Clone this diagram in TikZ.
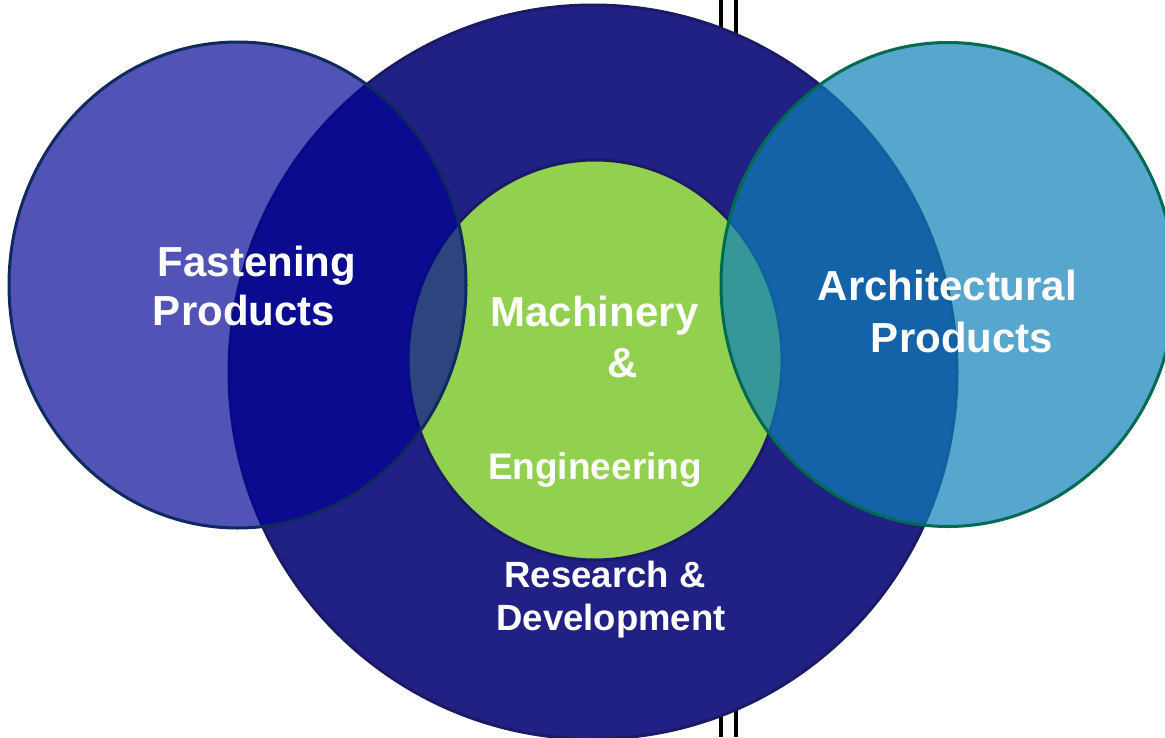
\documentclass[tikz,border=0pt]{standalone}
\usepackage{fontspec}
\setmainfont{Liberation Sans}
\usepackage{tikz}
\usepackage{xcolor}
\definecolor{rdnavy}{RGB}{33,32,133}
\definecolor{rdline}{RGB}{26,26,102}
\definecolor{mcgreen}{RGB}{146,208,80}
\definecolor{fpblue}{RGB}{0,2,148}
\definecolor{fpline}{RGB}{15,42,94}
\definecolor{apblue}{RGB}{15,128,184}
\definecolor{apline}{RGB}{0,107,80}

\begin{document}
\begin{tikzpicture} [x=1pt, y=-1pt,
		ring/.style={line width=3pt},
		big/.style={text=white, anchor=base, font=\bfseries\fontsize{42}{48}\selectfont},
		small/.style={text=white, anchor=base, font=\bfseries\fontsize{36.5}{42}\selectfont}]
				\useasboundingbox (0, 0) rectangle (1165, 737);
				\draw [black, line width=3.5pt] (721, 0)--(721, 737);
				\draw [black, line width=3.5pt] (736, 0)--(736, 737);
				\filldraw [ring, fill=rdnavy, draw=rdline] (593, 372) ellipse [x radius=364pt, y radius=367pt];
				\filldraw [ring, fill=mcgreen, draw=rdline] (595, 360) ellipse [x radius=187pt, y radius=200pt];
				\filldraw [ring, fill=fpblue, fill opacity=0.68, draw=fpline] (237.5, 285) ellipse [x radius=228.5pt, y radius=243pt];
				\filldraw [ring, fill=apblue, fill opacity=0.7, draw=apline] (948, 284.5) ellipse [x radius=227pt, y radius=242pt];
				\node [big] (fast) at (257, 276) {Fastening};
				\node [big] (fastprod) at (244, 325) {Products};
				\node [big] (arch) at (947.5, 300) {Architectural};
				\node [big] (archprod) at (962, 352) {Products};
				\node [big] (mach) at (594.5, 326) {Machinery};
				\node [big] (amp) at (622.5, 377) {\&};
				\node [font=\bfseries\fontsize{37}{42}\selectfont, text=white, anchor=base] (eng) at (595, 479) {Engineering};
				\node [small] (res) at (605, 587) {Research \&};
				\node [small] (dev) at (611, 630) {Development};
			\end{tikzpicture}
\end{document}
